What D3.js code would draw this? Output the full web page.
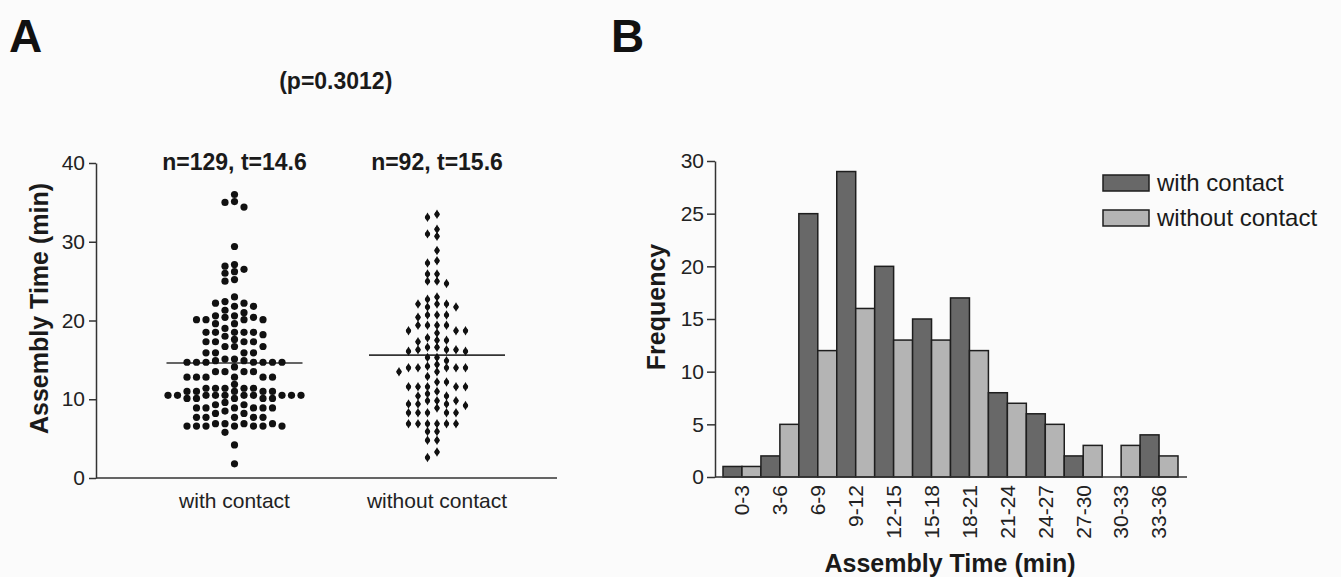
<!DOCTYPE html>
<html>
<head>
<meta charset="utf-8">
<script src="https://cdn.jsdelivr.net/npm/d3@7.9.0/dist/d3.min.js"></script>
<style>
  body { margin: 0; background: #fbfbfb; }
  svg { display: block; font-family: "Liberation Sans", Arial, sans-serif; }
  .axis path, .axis line { stroke: #333; stroke-width: 1.5; }
  .axis text { font-size: 21px; fill: #222; }
</style>
</head>
<body>
<svg id="chart" width="1341" height="577"></svg>
<script>
// ---- panel A data (scatter) ----
const groups = ['with contact', 'without contact'];
const groupN = [129, 92];
const groupMeans = [14.6, 15.6];
const pValue = '0.3012';

const withContact = [
  36.0, 35.1, 35.0, 34.4, 29.4, 27.1,
  26.9, 26.5, 26.2, 26.0, 25.2, 25.0,
  23.0, 22.4, 22.2, 22.2, 21.8, 21.8, 21.3, 21.0,
  20.6, 20.6, 20.4, 20.4, 20.1, 20.1, 20.1, 20.1, 19.6, 19.6, 19.0,
  18.5, 18.5, 18.5, 18.5, 18.5, 18.2,
  18.0, 17.6, 17.3, 17.3, 17.3, 17.3, 16.7, 16.7, 16.7,
  15.9, 15.9, 15.9, 15.9, 15.1, 15.1,
  14.9, 14.9, 14.7, 14.7, 14.7, 14.7, 14.7, 14.7, 14.7, 14.1,
  13.5, 13.5, 13.5, 13.5, 12.8, 12.8, 12.8, 12.8, 12.8, 12.8,
  11.9, 11.4, 11.4, 11.4, 11.4, 11.4, 11.0, 11.0, 11.0, 11.0, 11.0,
  10.5, 10.5, 10.5, 10.5, 10.5, 10.5, 10.5, 10.5, 10.5, 10.5,
  10.1, 10.1, 10.1, 10.1, 10.1, 9.6, 9.3, 9.3,
  8.9, 8.9, 8.9, 8.9, 8.9, 8.9, 8.5, 8.2, 8.2,
  7.7, 7.7, 7.7, 7.7, 7.7, 6.9, 6.9, 6.9, 6.9,
  6.6, 6.6, 6.6, 6.6, 6.6, 6.6, 6.6,
  5.8, 4.2, 1.8
];

const withoutContact = [
  33.5, 33.1, 31.6, 31.0, 30.7, 28.9, 27.6, 27.3,
  25.9, 25.9, 25.0, 25.0, 24.7,
  23.0, 22.7, 22.1, 22.1, 22.1, 21.7, 21.7,
  20.7, 20.7, 20.7, 20.4, 19.4, 19.4, 19.4, 19.4, 18.7, 18.7, 18.7, 18.4,
  17.8, 17.5, 17.5, 17.3, 16.6, 16.6, 16.3, 16.3, 16.3, 16.1, 16.1, 15.3, 15.3,
  14.9, 14.4, 14.2, 14.0, 14.0, 14.0, 14.0, 14.0, 13.5, 13.5, 12.9, 12.2, 12.2,
  11.6, 11.6, 11.6, 11.6, 11.6, 11.0, 10.7, 10.4, 10.4,
  9.8, 9.8, 9.8, 9.4, 9.4, 9.4, 9.2,
  8.9, 8.3, 8.3, 8.3, 8.3, 8.3, 6.9, 6.9, 6.9, 6.9, 6.9, 6.9,
  5.9, 5.9, 4.8, 4.8, 3.3, 2.6
];

// ---- panel B data (histogram) ----
const bins = ['0-3', '3-6', '6-9', '9-12', '12-15', '15-18', '18-21', '21-24', '24-27', '27-30', '30-33', '33-36'];
const withCounts = [1, 2, 25, 29, 20, 15, 17, 8, 6, 2, 0, 4];
const withoutCounts = [1, 5, 12, 16, 13, 13, 12, 7, 5, 3, 3, 2];
const series = ['with contact', 'without contact'];
const seriesColors = ['#686868', '#b4b4b4'];

const svg = d3.select('#chart');
svg.append('rect').attr('width', 1341).attr('height', 577).attr('fill', '#fbfbfb');

// simple column swarm: try offsets 0, -s, +s, -2s ... until no overlap
function swarm(values, y, step, minDy) {
  let pts = values.map((v) => ({ v, y: y(v) })).sort((a, b) => a.y - b.y);
  let placed = [];
  pts.forEach((p) => {
    for (let k = 0; k < 40; k++) {
      let off = k === 0 ? 0 : (k % 2 ? -1 : 1) * Math.ceil(k / 2) * step;
      let hit = placed.some((q) => Math.abs(q.dx - off) < step * 0.9 && Math.abs(q.y - p.y) < minDy);
      if (!hit) { p.dx = off; break; }
    }
    placed.push(p);
  });
  return placed;
}

// ================= PANEL A =================
const xA = d3.scalePoint().domain(groups).range([234.5, 437]);
const yA = d3.scaleLinear().domain([0, 40]).range([478, 163]);
const axA = 96;

svg.append('text').attr('x', 9).attr('y', 52)
  .attr('font-size', 46).attr('font-weight', 'bold').attr('fill', '#111').text('A');

svg.append('g').attr('class', 'axis')
  .attr('transform', `translate(${axA},0)`)
  .call(d3.axisLeft(yA).tickValues([0, 10, 20, 30, 40]).tickSize(7).tickSizeOuter(0).tickPadding(4));

svg.append('line').attr('x1', axA).attr('x2', 557).attr('y1', yA(0)).attr('y2', yA(0))
  .attr('stroke', '#333').attr('stroke-width', 1.5);

svg.append('text')
  .attr('transform', `translate(39,${(yA(0) + yA(40)) / 2 - 12}) rotate(-90)`)
  .attr('text-anchor', 'middle').attr('dy', '0.35em')
  .attr('font-size', 25).attr('font-weight', 'bold').attr('fill', '#1a1a1a')
  .text('Assembly Time (min)');

groups.forEach((g, gi) => {
  let cx = xA(g);
  svg.append('text').attr('x', cx).attr('y', 508).attr('text-anchor', 'middle')
    .attr('font-size', 21).attr('fill', '#222').text(g);
  svg.append('text').attr('x', cx).attr('y', 170).attr('text-anchor', 'middle')
    .attr('font-size', 23).attr('font-weight', 'bold').attr('fill', '#1a1a1a')
    .text(`n=${groupN[gi]}, t=${groupMeans[gi]}`);
  svg.append('line')
    .attr('x1', cx - 68).attr('x2', cx + 68)
    .attr('y1', yA(groupMeans[gi])).attr('y2', yA(groupMeans[gi]))
    .attr('stroke', '#333').attr('stroke-width', 1.6);
});

svg.append('text').attr('x', (xA(groups[0]) + xA(groups[1])) / 2).attr('y', 89)
  .attr('text-anchor', 'middle').attr('font-size', 23).attr('font-weight', 'bold')
  .attr('fill', '#1a1a1a').text(`(p=${pValue})`);

// with contact: round dots
swarm(withContact, yA, 9.5, 6.5).forEach((p) => {
  svg.append('circle').attr('cx', xA(groups[0]) + p.dx).attr('cy', p.y)
    .attr('r', 3.6).attr('fill', '#111');
});

// without contact: small diamond-ish dots
const diamond = d3.symbol().type(d3.symbolDiamond).size(26);
swarm(withoutContact, yA, 9.5, 6).forEach((p) => {
  let cx = xA(groups[1]) + p.dx;
  svg.append('circle').attr('cx', cx).attr('cy', p.y).attr('r', 2.5).attr('fill', '#111');
  svg.append('path').attr('d', diamond()).attr('transform', `translate(${cx},${p.y})`).attr('fill', '#111');
});

// ================= PANEL B =================
const xB = d3.scaleBand().domain(bins).range([723, 1178]);
const xS = d3.scaleBand().domain(series).range([0, xB.bandwidth()]);
const yB = d3.scaleLinear().domain([0, 30]).range([477, 161]);
const axB = 715;

svg.append('text').attr('x', 611).attr('y', 52)
  .attr('font-size', 46).attr('font-weight', 'bold').attr('fill', '#111').text('B');

const barData = [];
bins.forEach((b, i) => {
  barData.push({ bin: b, s: series[0], v: withCounts[i], c: seriesColors[0] });
  barData.push({ bin: b, s: series[1], v: withoutCounts[i], c: seriesColors[1] });
});

svg.append('g').selectAll('rect')
  .data(barData.filter((d) => d.v > 0))
  .join('rect')
  .attr('x', (d) => xB(d.bin) + xS(d.s))
  .attr('y', (d) => yB(d.v))
  .attr('width', xS.bandwidth())
  .attr('height', (d) => yB(0) - yB(d.v))
  .attr('fill', (d) => d.c)
  .attr('stroke', '#1e1e1e')
  .attr('stroke-width', 1.5);

svg.append('g').attr('class', 'axis')
  .attr('transform', `translate(${axB},0)`)
  .call(d3.axisLeft(yB).tickValues(d3.range(0, 31, 5)).tickSize(8).tickSizeOuter(0).tickPadding(3));

svg.append('line').attr('x1', axB).attr('x2', 1187).attr('y1', yB(0)).attr('y2', yB(0))
  .attr('stroke', '#333').attr('stroke-width', 1.5);

svg.append('g').selectAll('text')
  .data(bins)
  .join('text')
  .attr('transform', (d) => `translate(${xB(d) + xB.bandwidth() / 2},485) rotate(-90)`)
  .attr('text-anchor', 'end').attr('dy', '0.35em')
  .attr('font-size', 21).attr('fill', '#222')
  .text((d) => d);

svg.append('text')
  .attr('transform', `translate(656,${(yB(0) + yB(30)) / 2 - 12}) rotate(-90)`)
  .attr('text-anchor', 'middle').attr('dy', '0.35em')
  .attr('font-size', 25).attr('font-weight', 'bold').attr('fill', '#1a1a1a')
  .text('Frequency');

svg.append('text').attr('x', 950).attr('y', 572).attr('text-anchor', 'middle')
  .attr('font-size', 25).attr('font-weight', 'bold').attr('fill', '#1a1a1a')
  .text('Assembly Time (min)');

// legend
series.forEach((s, i) => {
  let ly = 175 + i * 35;
  svg.append('rect').attr('x', 1103).attr('y', ly).attr('width', 46).attr('height', 16)
    .attr('fill', seriesColors[i]).attr('stroke', '#1e1e1e').attr('stroke-width', 1.5);
  svg.append('text').attr('x', 1157).attr('y', ly + 16).attr('font-size', 24)
    .attr('fill', '#1a1a1a').text(s);
});
</script>
</body>
</html>
